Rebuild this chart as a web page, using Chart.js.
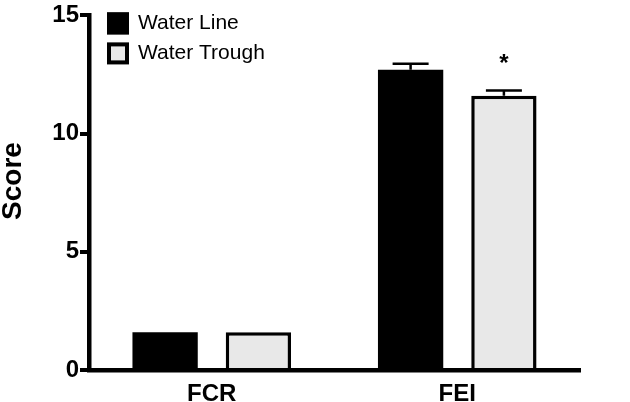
<!DOCTYPE html>
<html>
<head>
<meta charset="utf-8">
<script src="https://cdn.jsdelivr.net/npm/chart.js@4.4.1/dist/chart.umd.min.js"></script>
<style>
  html, body { margin: 0; padding: 0; background: #fff; }
  #wrap { width: 630px; height: 402px; }
</style>
</head>
<body>
<div id="wrap"><canvas id="chart1"></canvas></div>
<script>
const categories = ['FCR', 'FEI'];
const seriesNames = ['Water Line', 'Water Trough'];
const waterLine = [1.6, 12.7];
const waterTrough = [1.6, 11.6];
const waterLineErr = [0, 0.25];
const waterTroughErr = [0, 0.22];
const yTicks = [0, 5, 10, 15];
const yTitle = 'Score';
// significance marks per category for the trough series
const troughMarks = ['', '*'];

const FONT = "'Liberation Sans', Arial, Helvetica, sans-serif";
const ctx = document.getElementById('chart1');

// error bars (upper half only) and asterisk
const errorBars = {
  id: 'errorBars',
  afterDatasetsDraw(chart) {
    const c = chart.ctx;
    const y = chart.scales.y;
    const errs = [waterLineErr, waterTroughErr];
    c.save();
    c.strokeStyle = '#000';
    c.lineWidth = 2.5;
    chart.data.datasets.forEach((ds, di) => {
      const meta = chart.getDatasetMeta(di);
      meta.data.forEach((bar, i) => {
        const e = errs[di][i];
        if (!e) return;
        const top = y.getPixelForValue(ds.data[i] + e);
        c.beginPath();
        c.moveTo(bar.x, bar.y);
        c.lineTo(bar.x, top);
        c.moveTo(bar.x - 18, top);
        c.lineTo(bar.x + 18, top);
        c.stroke();
      });
    });
    const meta = chart.getDatasetMeta(1);
    c.fillStyle = '#000';
    c.font = 'bold 24px ' + FONT;
    c.textAlign = 'center';
    c.textBaseline = 'middle';
    meta.data.forEach((bar, i) => {
      if (!troughMarks[i]) return;
      const top = y.getPixelForValue(waterTrough[i] + waterTroughErr[i]);
      c.fillText(troughMarks[i], bar.x, top - 26);
    });
    c.restore();
  }
};

// legend boxes stacked top-left inside the plot, plus the y title
const boxLegend = {
  id: 'boxLegend',
  afterDraw(chart) {
    const c = chart.ctx;
    const a = chart.chartArea;
    c.save();
    c.font = '21px ' + FONT;
    c.textBaseline = 'middle';
    chart.data.datasets.forEach((ds, i) => {
      const bx = a.left + 18, by = a.top - 3 + i * 30;
      c.fillStyle = ds.backgroundColor;
      c.fillRect(bx, by, 22, 22);
      c.strokeStyle = '#000';
      c.lineWidth = 4;
      c.strokeRect(bx + 2, by + 2, 18, 18);
      c.fillStyle = '#000';
      c.fillText(ds.label, bx + 31, by + 11);
    });

    c.translate(13, 181);
    c.rotate(-Math.PI / 2);
    c.textAlign = 'center';
    c.font = 'bold 28px ' + FONT;
    c.fillText(yTitle, 0, 0);
    c.restore();
  }
};

new Chart(ctx, {
  type: 'bar',
  data: {
    labels: categories,
    datasets: [
      {
        label: seriesNames[0],
        data: waterLine,
        backgroundColor: '#000000',
        borderColor: '#000000',
        borderWidth: 0
      },
      {
        label: seriesNames[1],
        data: waterTrough,
        backgroundColor: '#e8e8e8',
        borderColor: '#000000',
        borderWidth: 3.5
      }
    ]
  },
  options: {
    responsive: true,
    maintainAspectRatio: false,
    animation: false,
    categoryPercentage: 0.76,
    barPercentage: 0.7,
    layout: { padding: { top: 13, right: 50, left: 0, bottom: 0 } },
    plugins: {
      legend: { display: false },
      tooltip: { enabled: false }
    },
    scales: {
      x: {
        grid: { display: false },
        border: { display: true, color: '#000', width: 4.5 },
        ticks: {
          color: '#000',
          font: { family: FONT, size: 24, weight: 'bold' },
          padding: 2
        },
        afterFit(scale) { scale.height = 32; }
      },
      y: {
        min: 0,
        max: 15,
        afterBuildTicks(scale) { scale.ticks = yTicks.map(v => ({ value: v })); },
        grid: {
          drawOnChartArea: false,
          drawTicks: true,
          tickLength: 9,
          color: '#000',
          lineWidth: 4
        },
        border: { display: true, color: '#000', width: 4.5 },
        ticks: {
          color: '#000',
          font: { family: FONT, size: 24, weight: 'bold' },
          padding: 1
        },
        afterFit(scale) { scale.width = 89; }
      }
    }
  },
  plugins: [errorBars, boxLegend]
});
</script>
</body>
</html>
